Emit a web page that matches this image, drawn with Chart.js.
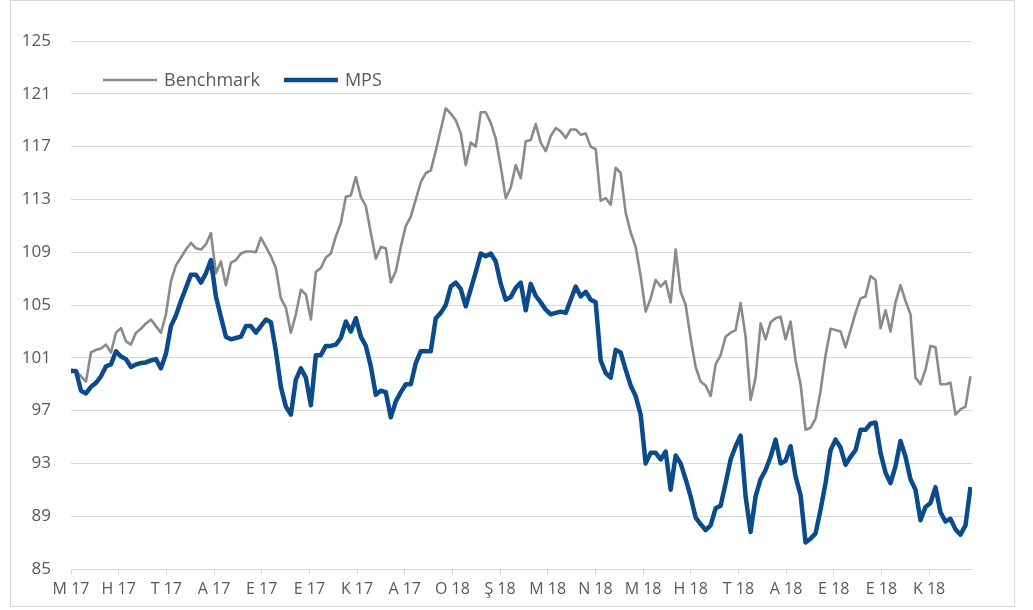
<!DOCTYPE html>
<html>
<head>
<meta charset="utf-8">
<script src="https://cdn.jsdelivr.net/npm/chart.js@4.4.1/dist/chart.umd.min.js"></script>
<style>
  html, body { margin: 0; padding: 0; background: #ffffff; }
  #wrap { position: relative; width: 1033px; height: 610px; }
</style>
</head>
<body>
<div id="wrap"><canvas id="c" width="1033" height="610"></canvas></div>
<script>
// Month tick labels (Turkish month initials)
const monthLabels = ['M 17','H 17','T 17','A 17','E 17','E 17','K 17','A 17','O 18','Ş 18',
                     'M 18','N 18','M 18','H 18','T 18','A 18','E 18','E 18','K 18'];

// Samples per month (readings taken at regular intervals)
const samplesPerMonth = 9.54;

const benchmark = [
  100.1,100.0,99.6,99.2,101.4,101.6,101.7,102.0,101.4,102.9,
  103.25,102.25,102.0,102.9,103.2,103.6,103.9,103.4,102.9,104.3,
  106.8,108.0,108.6,109.2,109.7,109.3,109.2,109.6,110.45,107.4,
  108.3,106.5,108.2,108.4,108.9,109.05,109.05,109.0,110.1,109.4,
  108.7,107.8,105.5,104.8,102.9,104.3,106.15,105.8,103.9,107.5,
  107.8,108.6,108.9,110.2,111.2,113.2,113.3,114.7,113.2,112.5,
  110.45,108.5,109.4,109.3,106.7,107.55,109.4,111.0,111.7,113.0,
  114.3,115.0,115.2,116.7,118.3,119.9,119.5,119.0,118.0,115.6,
  117.3,117.0,119.6,119.6,118.8,117.6,115.5,113.1,113.9,115.6,
  114.6,117.4,117.5,118.7,117.3,116.65,117.8,118.4,118.15,117.65,
  118.3,118.3,117.9,118.0,117.0,116.8,112.9,113.1,112.6,115.4,
  115.0,112.0,110.5,109.4,107.2,104.5,105.5,106.9,106.4,106.8,
  105.2,109.2,106.0,105.0,102.5,100.3,99.2,98.9,98.1,100.5,
  101.2,102.6,102.9,103.1,105.15,102.6,97.8,99.5,103.6,102.4,
  103.7,104.0,104.1,102.4,103.75,100.8,99.0,95.55,95.7,96.4,
  98.5,101.2,103.2,103.1,103.0,101.8,103.1,104.4,105.5,105.65,
  107.2,106.9,103.25,104.6,103.0,105.2,106.5,105.3,104.3,99.5,
  99.0,100.1,101.9,101.8,99.0,99.0,99.1,96.7,97.1,97.3,
  99.6
];

const mps = [
  100.0,100.0,98.5,98.3,98.8,99.1,99.6,100.35,100.5,101.5,
  101.1,100.9,100.3,100.5,100.6,100.65,100.8,100.9,100.2,101.3,
  103.4,104.2,105.3,106.3,107.3,107.3,106.7,107.4,108.4,105.65,
  104.1,102.6,102.4,102.5,102.6,103.4,103.4,102.9,103.4,103.9,
  103.7,101.5,98.8,97.3,96.7,99.35,100.2,99.5,97.4,101.2,
  101.2,101.9,101.9,102.0,102.5,103.75,103.0,104.0,102.6,101.9,
  100.35,98.2,98.5,98.4,96.5,97.7,98.4,99.0,99.0,100.6,
  101.5,101.5,101.5,104.0,104.4,105.0,106.4,106.7,106.2,104.9,
  106.2,107.5,108.9,108.7,108.9,108.3,106.6,105.4,105.6,106.3,
  106.7,104.6,106.6,105.7,105.2,104.65,104.3,104.4,104.5,104.4,
  105.4,106.4,105.65,106.0,105.4,105.2,100.8,99.85,99.5,101.6,
  101.4,100.1,98.9,98.1,96.7,93.0,93.8,93.8,93.3,93.9,
  91.0,93.6,93.0,91.8,90.5,88.9,88.4,87.95,88.3,89.6,
  89.8,91.5,93.3,94.3,95.1,90.5,87.8,90.5,91.8,92.5,
  93.5,94.8,93.0,93.2,94.3,92.0,90.6,87.0,87.3,87.7,
  89.5,91.5,94.0,94.8,94.2,92.9,93.5,94.0,95.55,95.55,
  96.0,96.1,93.8,92.3,91.5,92.8,94.7,93.5,91.8,91.0,
  88.7,89.7,90.0,91.2,89.3,88.6,88.8,88.0,87.6,88.3,
  91.2
];

const yMin = 85, yMax = 125, yStep = 4;

const toPoints = arr => arr.map((v, i) => ({ x: i / samplesPerMonth, y: v }));

const framePlugin = {
  id: 'frame',
  beforeDraw(chart) {
    const ctx = chart.ctx;
    ctx.save();
    ctx.fillStyle = '#ffffff';
    ctx.fillRect(0, 0, chart.width, chart.height);
    ctx.strokeStyle = '#d9d9d9';
    ctx.lineWidth = 1;
    ctx.strokeRect(10.5, 0.5, 1004, 606);
    ctx.restore();
  }
};

const legendPlugin = {
  id: 'insideLegend',
  afterDraw(chart) {
    const ctx = chart.ctx;
    const area = chart.chartArea;
    const y = 80;
    let x = area.left + 32;
    ctx.save();
    ctx.font = "18px 'Open Sans', sans-serif";
    ctx.textBaseline = 'middle';
    chart.data.datasets.forEach(ds => {
      ctx.strokeStyle = ds.borderColor;
      ctx.lineWidth = ds.borderWidth;
      ctx.beginPath();
      ctx.moveTo(x, y);
      ctx.lineTo(x + 54, y);
      ctx.stroke();
      ctx.fillStyle = '#595959';
      ctx.fillText(ds.label, x + 61, y + 1);
      x += 61 + ctx.measureText(ds.label).width + 24;
    });
    ctx.restore();
  }
};

Chart.defaults.font.family = "'Open Sans', sans-serif";
Chart.defaults.font.size = 16;
Chart.defaults.color = '#595959';

new Chart(document.getElementById('c'), {
  type: 'line',
  data: {
    datasets: [
      { label: 'Benchmark', data: toPoints(benchmark), borderColor: '#8a8a8a', borderWidth: 2.6,
        pointRadius: 0, tension: 0, order: 1, borderJoinStyle: 'round' },
      { label: 'MPS', data: toPoints(mps), borderColor: '#0b4a8b', borderWidth: 4.5,
        pointRadius: 0, tension: 0, order: 0, borderJoinStyle: 'round' }
    ]
  },
  options: {
    responsive: false,
    animation: false,
    layout: { padding: { left: 10, right: 61, top: 41, bottom: 0 } },
    plugins: { legend: { display: false }, tooltip: { enabled: false } },
    scales: {
      x: {
        type: 'linear',
        min: 0,
        max: 18.9,
        afterFit(s) { s.height = 41; },
        afterBuildTicks(s) {
          s.ticks = monthLabels.map((_, i) => ({ value: i }));
        },
        ticks: {
          autoSkip: false,
          maxRotation: 0,
          padding: 5,
          callback: (v) => monthLabels[v] !== undefined ? monthLabels[v] : ''
        },
        grid: { drawOnChartArea: false, drawTicks: true, tickLength: 6, color: '#d9d9d9' },
        border: { display: true, color: '#d9d9d9' }
      },
      y: {
        min: yMin,
        max: yMax,
        afterFit(s) { s.width = 61; },
        ticks: { stepSize: yStep, padding: 20, font: { size: 17 } },
        grid: { color: '#d9d9d9', drawTicks: false },
        border: { display: false }
      }
    }
  },
  plugins: [framePlugin, legendPlugin]
});
</script>
</body>
</html>
